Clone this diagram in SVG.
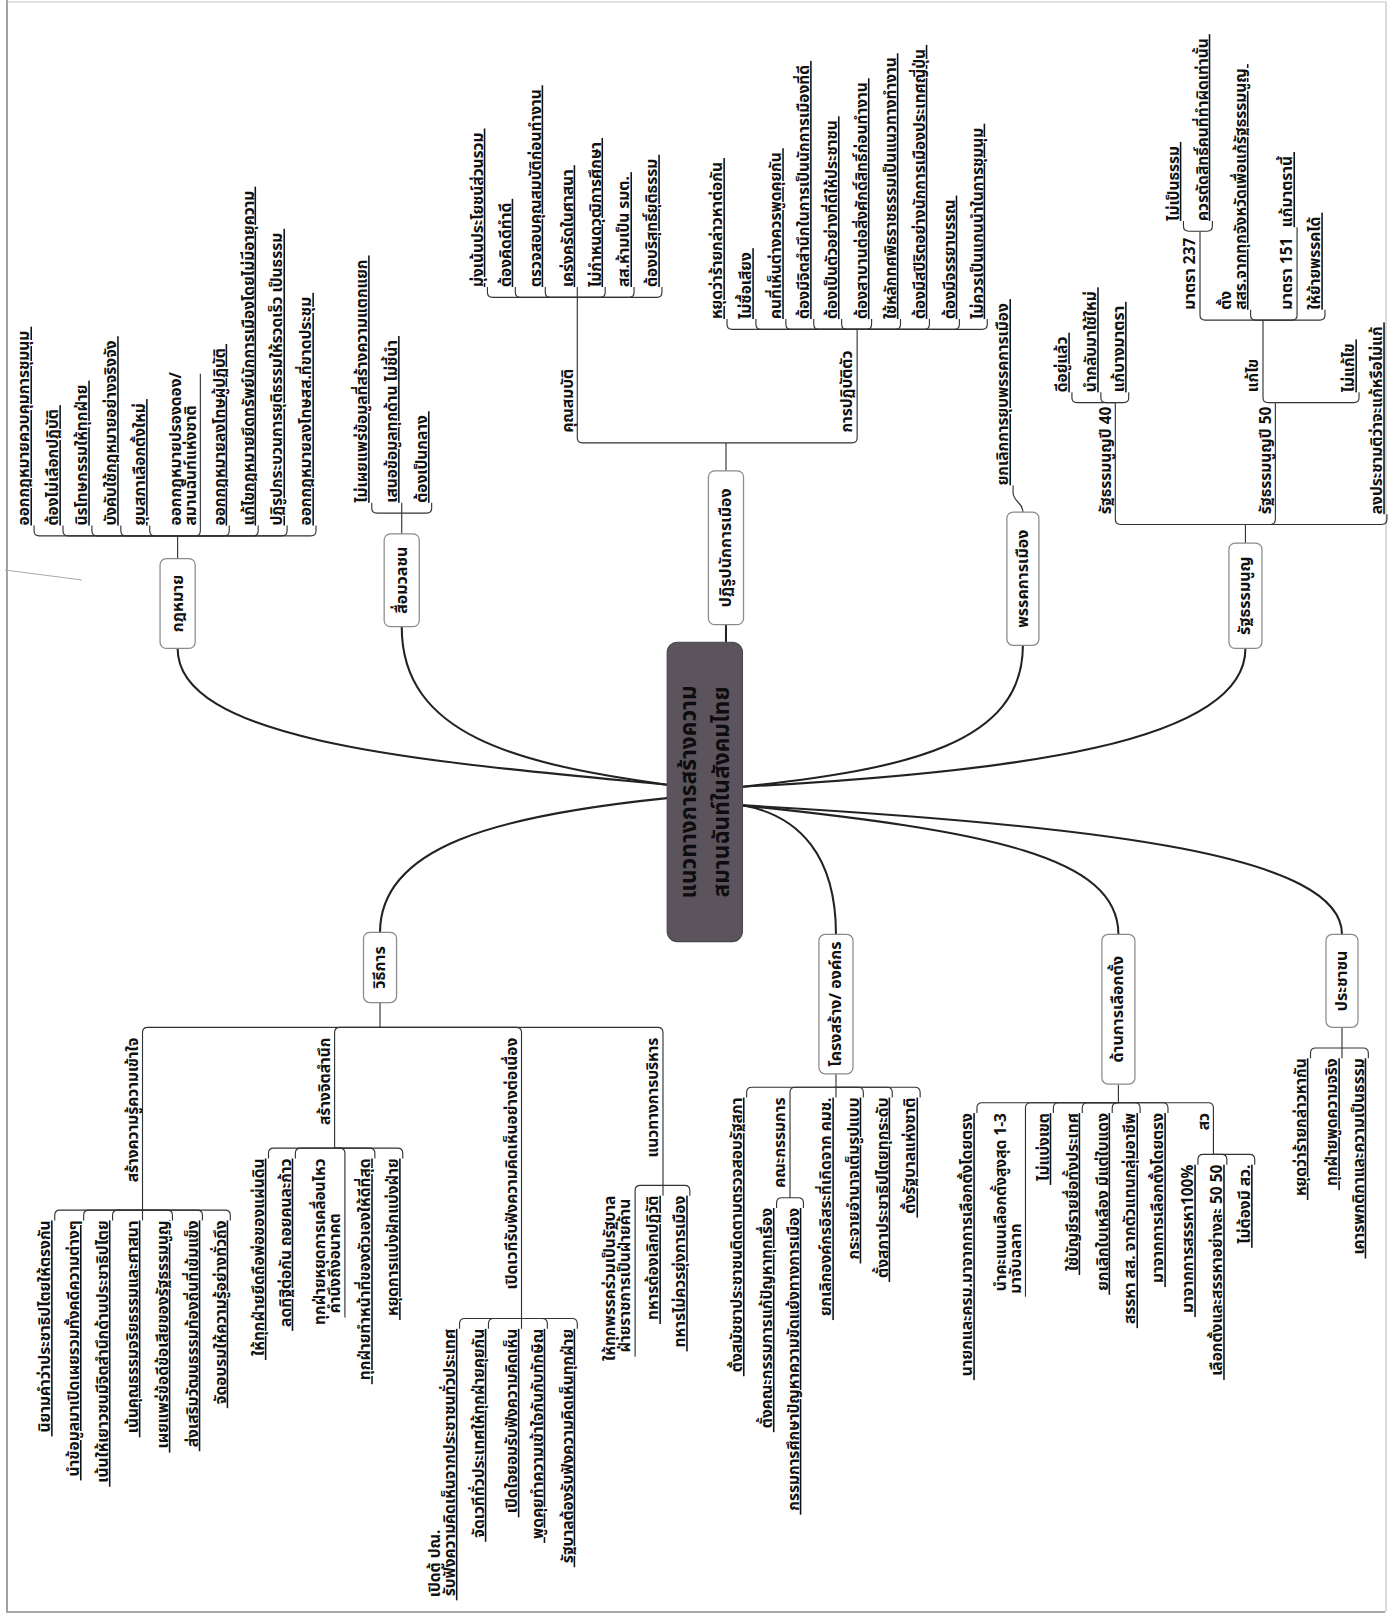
<svg xmlns="http://www.w3.org/2000/svg" width="1391" height="1619" viewBox="0 0 1391 1619">
<style>
.t{font-family:"Noto Sans Thai","Noto Sans Thai UI",Tahoma,Loma,Garuda,"Noto Sans","DejaVu Sans",sans-serif;font-size:15px;font-weight:700;fill:#111}
.u{text-decoration:underline;text-underline-offset:3px;text-decoration-thickness:1px}
.e{text-anchor:end}
.ln{fill:none;stroke:#333;stroke-width:1.1}
.mc{fill:none;stroke:#222;stroke-width:2}
.bx{fill:#fff;stroke:#8a8a8a;stroke-width:1.2}
.bt{font-size:15.5px;text-anchor:middle;dominant-baseline:central}
.ct{font-size:22px;text-anchor:middle;fill:#0d0d0d}
</style>
<rect width="1391" height="1619" fill="#fff"/>
<path d="M7 0V1612H1385" fill="none" stroke="#8a8a8a" stroke-width="1.6"/>
<path d="M7 2H1386V1612" fill="none" stroke="#c4c4c4" stroke-width="1.2"/>
<line x1="5" y1="570" x2="82" y2="580" stroke="#aaa"/>
<g transform="scale(1.0327 1.0325)">
<g id="connectors">
<path class="mc" d="M646 760C420 738 172 720 172 628"/>
<path class="mc" d="M646 760C500 740 389 712 389 607"/>
<path class="mc" d="M646 773C480 790 368 820 368 903"/>
<path class="mc" d="M719 762C880 745 990.5 720 990.5 625"/>
<path class="mc" d="M719 762C980 748 1206 720 1206 628"/>
<path class="mc" d="M719 780C775 790 809.5 830 809.5 905"/>
<path class="mc" d="M719 780C960 805 1083 830 1083 905"/>
<path class="mc" d="M719 780C1080 800 1299.5 830 1299.5 905"/>
<path class="mc" d="M703 605V622"/>
<g class="ln">
<path d="M172 541V519"/>
<path d="M172 519H38Q33 519 33 514V509"/>
<path d="M172 519H66Q61 519 61 514V509"/>
<path d="M172 519H94Q89 519 89 514V509"/>
<path d="M172 519H122Q117 519 117 514V509"/>
<path d="M172 519H150Q145 519 145 514V509"/>
<path d="M172 519H189Q194 519 194 514V362"/>
<path d="M172 519H217Q222 519 222 514V509"/>
<path d="M172 519H245Q250 519 250 514V509"/>
<path d="M172 519H273Q278 519 278 514V509"/>
<path d="M172 519H301Q306 519 306 514V509"/>
<path d="M389 517V497"/>
<path d="M389 497H365Q360 497 360 492V487"/>
<path d="M389 497V487"/>
<path d="M389 497H413Q418 497 418 492V487"/>
<path d="M703 456V429"/>
<path d="M703 429H564Q559 429 559 424V288"/>
<path d="M703 429H825Q830 429 830 424V319"/>
<path d="M559 288H477Q472 288 472 283V278"/>
<path d="M559 288H504Q499 288 499 283V278"/>
<path d="M559 288H533Q528 288 528 283V278"/>
<path d="M559 288V278"/>
<path d="M559 288H581Q586 288 586 283V278"/>
<path d="M559 288H609Q614 288 614 283V278"/>
<path d="M559 288H636Q641 288 641 283V278"/>
<path d="M830 319H709Q704 319 704 314V309"/>
<path d="M830 319H737Q732 319 732 314V309"/>
<path d="M830 319H766Q761 319 761 314V309"/>
<path d="M830 319H793Q788 319 788 314V309"/>
<path d="M830 319H820Q815 319 815 314V309"/>
<path d="M830 319H839Q844 319 844 314V309"/>
<path d="M830 319H867Q872 319 872 314V309"/>
<path d="M830 319H895Q900 319 900 314V309"/>
<path d="M830 319H924Q929 319 929 314V309"/>
<path d="M830 319H951Q956 319 956 314V309"/>
<path d="M990.5 496C990.5 486 981 486 981 477V470"/>
<path d="M1206 526V508"/>
<path d="M1206 508H1085Q1080 508 1080 503V390"/>
<path d="M1206 508H1230Q1235 508 1235 503V390"/>
<path d="M1206 508H1338Q1343 508 1343 503V498"/>
<path d="M1080 390H1043Q1038 390 1038 385V380"/>
<path d="M1080 390H1071Q1066 390 1066 385V380"/>
<path d="M1080 390H1088Q1093 390 1093 385V380"/>
<path d="M1235 390H1228Q1223 390 1223 385V310"/>
<path d="M1235 390H1311Q1316 390 1316 385V380"/>
<path d="M1223 310H1167Q1162 310 1162 305V224"/>
<path d="M1223 310H1216Q1211 310 1211 305V300"/>
<path d="M1223 310H1251Q1256 310 1256 305V220"/>
<path d="M1223 310H1278Q1283 310 1283 305V300"/>
<path d="M1162 224H1151Q1146 224 1146 219V214"/>
<path d="M1162 224H1169Q1174 224 1174 219V214"/>
<path d="M368 971V995"/>
<path d="M368 995H143Q138 995 138 1000V1172"/>
<path d="M368 995H329Q324 995 324 1000V1112"/>
<path d="M368 995H500Q505 995 505 1000V1277"/>
<path d="M368 995H637Q642 995 642 1000V1148"/>
<path d="M138 1172H58Q53 1172 53 1177V1182"/>
<path d="M138 1172H86Q81 1172 81 1177V1182"/>
<path d="M138 1172H114Q109 1172 109 1177V1182"/>
<path d="M138 1172V1182"/>
<path d="M138 1172H162Q167 1172 167 1177V1182"/>
<path d="M138 1172H191Q196 1172 196 1177V1182"/>
<path d="M138 1172H218Q223 1172 223 1177V1182"/>
<path d="M324 1112H265Q260 1112 260 1117V1122"/>
<path d="M324 1112H291Q286 1112 286 1117V1122"/>
<path d="M324 1112H329Q334 1112 334 1117V1276"/>
<path d="M324 1112H358Q363 1112 363 1117V1122"/>
<path d="M324 1112H385Q390 1112 390 1117V1122"/>
<path d="M505 1277H450Q445 1277 445 1282V1287"/>
<path d="M505 1277H478Q473 1277 473 1282V1287"/>
<path d="M505 1277V1287"/>
<path d="M505 1277H525Q530 1277 530 1282V1287"/>
<path d="M505 1277H554Q559 1277 559 1282V1287"/>
<path d="M642 1148H620Q615 1148 615 1153V1314"/>
<path d="M642 1148V1158"/>
<path d="M642 1148H663Q668 1148 668 1153V1158"/>
<path d="M809.5 1040V1053"/>
<path d="M809.5 1053H728Q723 1053 723 1058V1063"/>
<path d="M809.5 1053H770Q765 1053 765 1058V1160"/>
<path d="M809.5 1053V1063"/>
<path d="M809.5 1053H831Q836 1053 836 1058V1063"/>
<path d="M809.5 1053H859Q864 1053 864 1058V1063"/>
<path d="M809.5 1053H886Q891 1053 891 1058V1063"/>
<path d="M765 1160H757Q752 1160 752 1165V1170"/>
<path d="M765 1160H773Q778 1160 778 1165V1170"/>
<path d="M1083 1050V1068"/>
<path d="M1083 1068H951Q946 1068 946 1073V1078"/>
<path d="M1083 1068H998Q993 1068 993 1073V1256"/>
<path d="M1083 1068H1025Q1020 1068 1020 1073V1078"/>
<path d="M1083 1068H1053Q1048 1068 1048 1073V1078"/>
<path d="M1083 1068H1082Q1077 1068 1077 1073V1078"/>
<path d="M1083 1068H1099Q1104 1068 1104 1073V1078"/>
<path d="M1083 1068H1126Q1131 1068 1131 1073V1078"/>
<path d="M1083 1068H1170Q1175 1068 1175 1073V1118"/>
<path d="M1175 1118H1165Q1160 1118 1160 1123V1128"/>
<path d="M1175 1118H1183Q1188 1118 1188 1123V1128"/>
<path d="M1175 1118H1210Q1215 1118 1215 1123V1128"/>
<path d="M1299.5 995V1015"/>
<path d="M1299.5 1015H1274Q1269 1015 1269 1020V1025"/>
<path d="M1299.5 1015V1025"/>
<path d="M1299.5 1015H1320Q1325 1015 1325 1020V1025"/>
</g>
</g>

<g id="n-center"><rect x="646" y="622" width="73" height="290" rx="10" fill="#5b545d" stroke="#4a444c"/>
<text class="t ct" transform="translate(674 767) rotate(-90)">แนวทางการสร้างความ</text>
<text class="t ct" transform="translate(706 767) rotate(-90)">สมานฉันท์ในสังคมไทย</text></g>

<g id="n-law"><rect class="bx" x="155" y="541" width="34" height="87" rx="6"/><text class="t bt" transform="translate(172 584.5) rotate(-90)">กฎหมาย</text></g>
<g id="n-law-1"><text class="t u" transform="translate(28.5 509) rotate(-90)">ออกกฎหมายควบคุมการชุมนุม&#160;</text></g>
<g id="n-law-2"><text class="t u" transform="translate(56.5 509) rotate(-90)">ต้องไม่เลือกปฏิบัติ&#160;</text></g>
<g id="n-law-3"><text class="t u" transform="translate(84.5 509) rotate(-90)">นิรโทษกรรมให้ทุกฝ่าย&#160;</text></g>
<g id="n-law-4"><text class="t u" transform="translate(112.5 509) rotate(-90)">บังคับใช้กฎหมายอย่างจริงจัง&#160;</text></g>
<g id="n-law-5"><text class="t u" transform="translate(140.5 509) rotate(-90)">ยุบสภาเลือกตั้งใหม่&#160;</text></g>
<g id="n-law-6"><text class="t" transform="translate(175 509) rotate(-90)">ออกกฎหมายปรองดอง/</text><text class="t" transform="translate(189.5 509) rotate(-90)">สมานฉันท์แห่งชาติ</text></g>
<g id="n-law-7"><text class="t u" transform="translate(217.5 509) rotate(-90)">ออกกฎหมายลงโทษผู้ปฏิบัติ&#160;</text></g>
<g id="n-law-8"><text class="t u" transform="translate(245.5 509) rotate(-90)">แก้ไขกฎหมายยึดทรัพย์นักการเมืองโดยไม่มีอายุความ&#160;</text></g>
<g id="n-law-9"><text class="t u" transform="translate(273.5 509) rotate(-90)">ปฏิรูปกระบวนการยุติธรรมให้รวดเร็ว เป็นธรรม&#160;</text></g>
<g id="n-law-10"><text class="t u" transform="translate(301.5 509) rotate(-90)">ออกกฎหมายลงโทษสส.ที่ขาดประชุม&#160;</text></g>

<g id="n-media"><rect class="bx" x="372" y="517" width="34" height="90" rx="6"/><text class="t bt" transform="translate(389 562) rotate(-90)">สื่อมวลชน</text></g>
<g id="n-media-1"><text class="t u" transform="translate(355.5 487) rotate(-90)">ไม่เผยแพร่ข้อมูลที่สร้างความแตกแยก&#160;</text></g>
<g id="n-media-2"><text class="t u" transform="translate(384.5 487) rotate(-90)">เสนอข้อมูลทุกด้าน ไม่ชี้นำ&#160;</text></g>
<g id="n-media-3"><text class="t u" transform="translate(413.5 487) rotate(-90)">ต้องเป็นกลาง&#160;</text></g>

<g id="n-reform"><rect class="bx" x="686" y="456" width="34" height="149" rx="6"/><text class="t bt" transform="translate(703 530.5) rotate(-90)">ปฏิรูปนักการเมือง</text></g>
<g id="n-qual"><text class="t" transform="translate(554.5 419) rotate(-90)">คุณสมบัติ</text></g>
<g id="n-qual-1"><text class="t u" transform="translate(467.5 278) rotate(-90)">มุ่งเน้นประโยชน์ส่วนรวม&#160;</text></g>
<g id="n-qual-2"><text class="t u" transform="translate(494.5 278) rotate(-90)">ต้องคิดดีทำดี&#160;</text></g>
<g id="n-qual-3"><text class="t u" transform="translate(523.5 278) rotate(-90)">ตรวจสอบคุณสมบัติก่อนทำงาน&#160;</text></g>
<g id="n-qual-4"><text class="t u" transform="translate(554.5 278) rotate(-90)">เคร่งครัดในศาสนา&#160;</text></g>
<g id="n-qual-5"><text class="t u" transform="translate(581.5 278) rotate(-90)">ไม่กำหนดวุฒิการศึกษา&#160;</text></g>
<g id="n-qual-6"><text class="t u" transform="translate(609.5 278) rotate(-90)">สส.ห้ามเป็น รมต.&#160;</text></g>
<g id="n-qual-7"><text class="t u" transform="translate(636.5 278) rotate(-90)">ต้องบริสุทธิ์ยุติธรรม&#160;</text></g>
<g id="n-conduct"><text class="t" transform="translate(825.5 419) rotate(-90)">การปฏิบัติตัว</text></g>
<g id="n-conduct-1"><text class="t u" transform="translate(699.5 309) rotate(-90)">หยุดว่าร้ายกล่าวหาต่อกัน&#160;</text></g>
<g id="n-conduct-2"><text class="t u" transform="translate(727.5 309) rotate(-90)">ไม่ซื้อเสียง&#160;</text></g>
<g id="n-conduct-3"><text class="t u" transform="translate(756.5 309) rotate(-90)">คนที่เห็นต่างควรพูดคุยกัน&#160;</text></g>
<g id="n-conduct-4"><text class="t u" transform="translate(783.5 309) rotate(-90)">ต้องมีจิตสำนึกในการเป็นนักการเมืองที่ดี&#160;</text></g>
<g id="n-conduct-5"><text class="t u" transform="translate(810.5 309) rotate(-90)">ต้องเป็นตัวอย่างที่ดีให้ประชาชน&#160;</text></g>
<g id="n-conduct-6"><text class="t u" transform="translate(839.5 309) rotate(-90)">ต้องสาบานต่อสิ่งศักดิ์สิทธิ์ก่อนทำงาน&#160;</text></g>
<g id="n-conduct-7"><text class="t u" transform="translate(867.5 309) rotate(-90)">ใช้หลักทศพิธราชธรรมเป็นแนวทางทำงาน&#160;</text></g>
<g id="n-conduct-8"><text class="t u" transform="translate(895.5 309) rotate(-90)">ต้องมีสปิริตอย่างนักการเมืองประเทศญี่ปุ่น&#160;</text></g>
<g id="n-conduct-9"><text class="t u" transform="translate(924.5 309) rotate(-90)">ต้องมีจรรยาบรรณ&#160;</text></g>
<g id="n-conduct-10"><text class="t u" transform="translate(951.5 309) rotate(-90)">ไม่ควรเป็นแกนนำในการชุมนุม&#160;</text></g>

<g id="n-party"><rect class="bx" x="975" y="496" width="31" height="129" rx="6"/><text class="t bt" transform="translate(990.5 560.5) rotate(-90)">พรรคการเมือง</text></g>
<g id="n-party-1"><text class="t u" transform="translate(976.5 470) rotate(-90)">ยกเลิกการยุบพรรคการเมือง&#160;</text></g>

<g id="n-const"><rect class="bx" x="1190" y="526" width="32" height="102" rx="6"/><text class="t bt" transform="translate(1206 577) rotate(-90)">รัฐธรรมนูญ</text></g>
<g id="n-c40"><text class="t" transform="translate(1075.5 498) rotate(-90)">รัฐธรรมนูญปี 40</text></g>
<g id="n-c40-1"><text class="t u" transform="translate(1033.5 380) rotate(-90)">ดีอยู่แล้ว&#160;</text></g>
<g id="n-c40-2"><text class="t u" transform="translate(1061.5 380) rotate(-90)">นำกลับมาใช้ใหม่&#160;</text></g>
<g id="n-c40-3"><text class="t u" transform="translate(1088.5 380) rotate(-90)">แก้บางมาตรา&#160;</text></g>
<g id="n-c50"><text class="t" transform="translate(1230.5 498) rotate(-90)">รัฐธรรมนูญปี 50</text></g>
<g id="n-amend"><text class="t" transform="translate(1218.5 380) rotate(-90)">แก้ไข</text></g>
<g id="n-noamend"><text class="t u" transform="translate(1311.5 380) rotate(-90)">ไม่แก้ไข&#160;</text></g>
<g id="n-m237"><text class="t" transform="translate(1157.5 300) rotate(-90)">มาตรา 237</text></g>
<g id="n-m237-1"><text class="t u" transform="translate(1141.5 214) rotate(-90)">ไม่เป็นธรรม&#160;</text></g>
<g id="n-m237-2"><text class="t u" transform="translate(1169.5 214) rotate(-90)">ควรตัดสิทธิ์คนที่ทำผิดเท่านั้น&#160;</text></g>
<g id="n-ssr"><text class="t" transform="translate(1192 300) rotate(-90)">ตั้ง</text><text class="t u" transform="translate(1206.5 300) rotate(-90)">สสร.จากทุกจังหวัดเพื่อแก้รัฐธรรมนูญ&#160;</text></g>
<g id="n-m151"><text class="t" transform="translate(1251.5 300) rotate(-90)">มาตรา 151</text></g>
<g id="n-m151-1"><text class="t u" transform="translate(1251.5 220) rotate(-90)">แก้มาตรานี้&#160;</text></g>
<g id="n-switch"><text class="t u" transform="translate(1278.5 300) rotate(-90)">ให้ย้ายพรรคได้&#160;</text></g>
<g id="n-referendum"><text class="t u" transform="translate(1338.5 498) rotate(-90)">ลงประชามติว่าจะแก้หรือไม่แก้&#160;</text></g>

<g id="n-method"><rect class="bx" x="352" y="903" width="32" height="68" rx="6"/><text class="t bt" transform="translate(368 937) rotate(-90)">วิธีการ</text></g>
<g id="n-know"><text class="t e" transform="translate(133.5 1005) rotate(-90)">สร้างความรู้ความเข้าใจ</text></g>
<g id="n-know-1"><text class="t u e" transform="translate(48.5 1182) rotate(-90)">&#160;นิยามคำว่าประชาธิปไตยให้ตรงกัน</text></g>
<g id="n-know-2"><text class="t u e" transform="translate(76.5 1182) rotate(-90)">&#160;นำข้อมูลมาเปิดเผยรวมทั้งคดีความต่างๆ</text></g>
<g id="n-know-3"><text class="t u e" transform="translate(104.5 1182) rotate(-90)">&#160;เน้นให้เยาวชนมีจิตสำนึกด้านประชาธิปไตย</text></g>
<g id="n-know-4"><text class="t u e" transform="translate(133.5 1182) rotate(-90)">&#160;เน้นคุณธรรมจริยธรรมและศาสนา</text></g>
<g id="n-know-5"><text class="t u e" transform="translate(162.5 1182) rotate(-90)">&#160;เผยแพร่ข้อดีข้อเสียของรัฐธรรมนูญ</text></g>
<g id="n-know-6"><text class="t u e" transform="translate(191.5 1182) rotate(-90)">&#160;ส่งเสริมวัฒนธรรมท้องถิ่นที่เข้มแข็ง</text></g>
<g id="n-know-7"><text class="t u e" transform="translate(218.5 1182) rotate(-90)">&#160;จัดอบรมให้ความรู้อย่างทั่วถึง</text></g>
<g id="n-consc"><text class="t e" transform="translate(319.5 1005) rotate(-90)">สร้างจิตสำนึก</text></g>
<g id="n-consc-1"><text class="t u e" transform="translate(255.5 1122) rotate(-90)">&#160;ให้ทุกฝ่ายยึดถือพ่อของแผ่นดิน</text></g>
<g id="n-consc-2"><text class="t u e" transform="translate(281.5 1122) rotate(-90)">&#160;ลดทิฐิต่อกัน ถอยคนละก้าว</text></g>
<g id="n-consc-3"><text class="t e" transform="translate(315 1122) rotate(-90)">ทุกฝ่ายหยุดการเคลื่อนไหว</text><text class="t" transform="translate(329.5 1272) rotate(-90)">คำนึงถึงอนาคต</text></g>
<g id="n-consc-4"><text class="t u e" transform="translate(358.5 1122) rotate(-90)">&#160;ทุกฝ่ายทำหน้าที่ของตัวเองให้ดีที่สุด</text></g>
<g id="n-consc-5"><text class="t u e" transform="translate(385.5 1122) rotate(-90)">&#160;หยุดการแบ่งฝักแบ่งฝ่าย</text></g>
<g id="n-forum"><text class="t e" transform="translate(500.5 1005) rotate(-90)">เปิดเวทีรับฟังความคิดเห็นอย่างต่อเนื่อง</text></g>
<g id="n-forum-1"><text class="t" transform="translate(426 1547) rotate(-90)">เปิดตู้ ปณ.</text><text class="t u e" transform="translate(440.5 1287) rotate(-90)">&#160;รับฟังความคิดเห็นจากประชาชนทั่วประเทศ</text></g>
<g id="n-forum-2"><text class="t u e" transform="translate(468.5 1287) rotate(-90)">&#160;จัดเวทีทั่วประเทศให้ทุกฝ่ายคุยกัน</text></g>
<g id="n-forum-3"><text class="t u e" transform="translate(500.5 1287) rotate(-90)">&#160;เปิดใจยอมรับฟังความคิดเห็น</text></g>
<g id="n-forum-4"><text class="t u e" transform="translate(525.5 1287) rotate(-90)">&#160;พูดคุยทำความเข้าใจกันกับทักษิณ</text></g>
<g id="n-forum-5"><text class="t u e" transform="translate(554.5 1287) rotate(-90)">&#160;รัฐบาลต้องรับฟังความคิดเห็นทุกฝ่าย</text></g>
<g id="n-admin"><text class="t e" transform="translate(637.5 1005) rotate(-90)">แนวทางการบริหาร</text></g>
<g id="n-admin-1"><text class="t e" transform="translate(596 1158) rotate(-90)">ให้ทุกพรรคร่วมเป็นรัฐบาล</text><text class="t" transform="translate(610.5 1310) rotate(-90)">ฝ่ายราชการเป็นฝ่ายค้าน</text></g>
<g id="n-admin-2"><text class="t u e" transform="translate(637.5 1158) rotate(-90)">&#160;ทหารต้องเลิกปฏิวัติ</text></g>
<g id="n-admin-3"><text class="t u e" transform="translate(663.5 1158) rotate(-90)">&#160;ทหารไม่ควรยุ่งการเมือง</text></g>

<g id="n-struct"><rect class="bx" x="793" y="905" width="33" height="135" rx="6"/><text class="t bt" transform="translate(809.5 972.5) rotate(-90)">โครงสร้าง/ องค์กร</text></g>
<g id="n-struct-1"><text class="t u e" transform="translate(718.5 1063) rotate(-90)">&#160;ตั้งสมัชชาประชาชนติดตามตรวจสอบรัฐสภา</text></g>
<g id="n-committee"><text class="t e" transform="translate(760.5 1063) rotate(-90)">คณะกรรมการ</text></g>
<g id="n-committee-1"><text class="t u e" transform="translate(747.5 1170) rotate(-90)">&#160;ตั้งคณะกรรมการแก้ปัญหาทุกเรื่อง</text></g>
<g id="n-committee-2"><text class="t u e" transform="translate(773.5 1170) rotate(-90)">&#160;กรรมการศึกษาปัญหาความขัดแย้งทางการเมือง</text></g>
<g id="n-struct-3"><text class="t u e" transform="translate(805 1063) rotate(-90)">&#160;ยกเลิกองค์กรอิสระที่เกิดจาก คมช.</text></g>
<g id="n-struct-4"><text class="t u e" transform="translate(831.5 1063) rotate(-90)">&#160;กระจายอำนาจเต็มรูปแบบ</text></g>
<g id="n-struct-5"><text class="t u e" transform="translate(859.5 1063) rotate(-90)">&#160;ตั้งสภาประชาธิปไตยทุกระดับ</text></g>
<g id="n-struct-6"><text class="t u e" transform="translate(886.5 1063) rotate(-90)">&#160;ตั้งรัฐบาลแห่งชาติ</text></g>

<g id="n-elect"><rect class="bx" x="1067" y="905" width="32" height="145" rx="6"/><text class="t bt" transform="translate(1083 977.5) rotate(-90)">ด้านการเลือกตั้ง</text></g>
<g id="n-elect-1"><text class="t u e" transform="translate(941.5 1078) rotate(-90)">&#160;นายกและครม.มาจากการเลือกตั้งโดยตรง</text></g>
<g id="n-elect-2"><text class="t e" transform="translate(974 1078) rotate(-90)">นำคะแนนเลือกตั้งสูงสุด 1-3</text><text class="t" transform="translate(988.5 1253) rotate(-90)">มาจับฉลาก</text></g>
<g id="n-elect-3"><text class="t u e" transform="translate(1015.5 1078) rotate(-90)">&#160;ไม่แบ่งเขต</text></g>
<g id="n-elect-4"><text class="t u e" transform="translate(1043.5 1078) rotate(-90)">&#160;ใช้บัญชีรายชื่อทั้งประเทศ</text></g>
<g id="n-elect-5"><text class="t u e" transform="translate(1072.5 1078) rotate(-90)">&#160;ยกเลิกใบเหลือง มีแต่ใบแดง</text></g>
<g id="n-elect-6"><text class="t u e" transform="translate(1099.5 1078) rotate(-90)">&#160;สรรหา สส. จากตัวแทนกลุ่มอาชีพ</text></g>
<g id="n-elect-7"><text class="t u e" transform="translate(1126.5 1078) rotate(-90)">&#160;มาจากการเลือกตั้งโดยตรง</text></g>
<g id="n-senate"><text class="t e" transform="translate(1170.5 1078) rotate(-90)">สว</text></g>
<g id="n-senate-1"><text class="t u e" transform="translate(1155.5 1128) rotate(-90)">&#160;มาจากการสรรหา100%</text></g>
<g id="n-senate-2"><text class="t u e" transform="translate(1183.5 1128) rotate(-90)">&#160;เลือกตั้งและสรรหาอย่างละ 50 50</text></g>
<g id="n-senate-3"><text class="t u e" transform="translate(1210.5 1128) rotate(-90)">&#160;ไม่ต้องมี สว.</text></g>

<g id="n-people"><rect class="bx" x="1284" y="905" width="31" height="90" rx="6"/><text class="t bt" transform="translate(1299.5 950) rotate(-90)">ประชาชน</text></g>
<g id="n-people-1"><text class="t u e" transform="translate(1264.5 1025) rotate(-90)">&#160;หยุดว่าร้ายกล่าวหากัน</text></g>
<g id="n-people-2"><text class="t u e" transform="translate(1295 1025) rotate(-90)">&#160;ทุกฝ่ายพูดความจริง</text></g>
<g id="n-people-3"><text class="t u e" transform="translate(1320.5 1025) rotate(-90)">&#160;เคารพกติกาและความเป็นธรรม</text></g>
</g>
</svg>
